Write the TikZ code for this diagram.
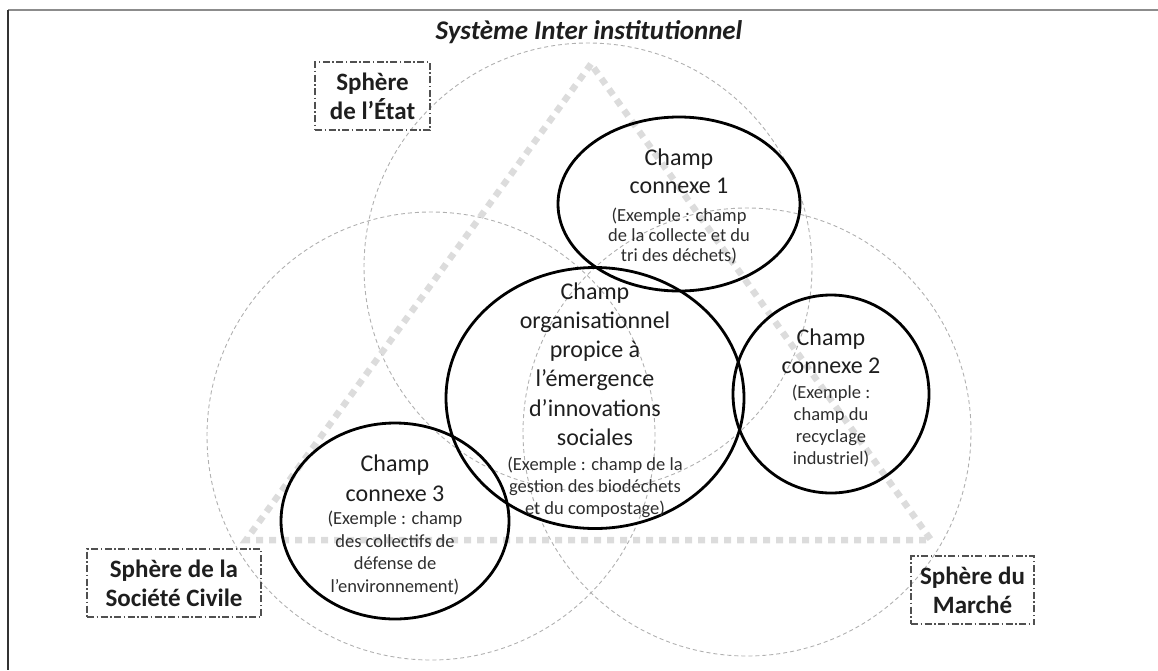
\documentclass[tikz,border=0pt]{standalone}
\usepackage{fontspec}
\setmainfont{Carlito}
\usetikzlibrary{shapes.geometric}
\definecolor{bigc}{HTML}{B0B0B0}
\definecolor{tri}{HTML}{DCDCDC}
\definecolor{txt}{HTML}{1E1E1E}
\definecolor{stxt}{HTML}{2E2E2E}
\definecolor{boxc}{HTML}{505050}
\tikzset{
  sphcircle/.style={draw=bigc, line width=0.9pt, dash pattern=on 4pt off 3pt, circle, minimum size=448pt, inner sep=0pt},
  champ/.style={draw=black, line width=2.8pt, ellipse, inner sep=0pt},
  bigtxt/.style={align=center, text=txt, inner sep=0pt, font=\fontsize{24}{28}\selectfont},
  smalltxt/.style={align=center, text=stxt, inner sep=0pt, font=\fontsize{18.5}{21}\selectfont},
  sphbox/.style={draw=boxc, line width=1.1pt, dash pattern=on 7pt off 2.5pt on 1.5pt off 2.5pt, text=txt,
    font=\bfseries\fontsize{25}{29}\selectfont, align=center, inner sep=0pt, minimum height=68pt},
  trline/.style={draw=tri, line width=6.5pt, dash pattern=on 7pt off 6pt}
}
\begin{document}
\begin{tikzpicture}[x=1pt, y=-1pt]
\useasboundingbox (0,0) rectangle (1158,670);
% frame
\coordinate (f0) at (8,10);
\coordinate (f1) at (1158,10);
\coordinate (f2) at (8,670);
\draw[line width=2.5pt, draw=gray!90] (f0) -- (f1);
\draw[line width=2pt, draw=black!80] (f0) -- (f2);
% title
\node[font=\bfseries\itshape\fontsize{27}{32}\selectfont, text=txt] (title) at (589,32) {Système Inter institutionnel};
% big dashed circles
\node[sphcircle] (cetat) at (588,267) {};
\node[sphcircle] (cciv) at (431,436) {};
\node[sphcircle] (cmar) at (747,432) {};
% triangle
\coordinate (tA) at (591,64);
\coordinate (tB) at (246,540);
\coordinate (tC) at (931,540);
\draw[trline] (tA) -- (tB) -- (tC) -- cycle;
% ellipses
\node[champ, minimum width=242pt, minimum height=174pt] (cc1) at (679,204) {};
\node[champ, minimum width=298pt, minimum height=261pt] (org) at (595,398) {};
\node[champ, minimum width=196pt, minimum height=198pt] (cc2) at (831,394) {};
\node[champ, minimum width=228pt, minimum height=196pt] (cc3) at (395,521) {};
% texts
\node[bigtxt] (cc1a) at (679,171) {Champ\\connexe 1};
\node[smalltxt, font=\fontsize{18.5}{20}\selectfont] (cc1b) at (679,236) {(Exemple : champ\\de la collecte et du\\tri des déchets)};
\node[bigtxt, font=\fontsize{24}{29.2}\selectfont] (orga) at (595,364) {Champ\\organisationnel\\propice à\\l’émergence\\d’innovations\\sociales};
\node[smalltxt, font=\fontsize{18.5}{22}\selectfont] (orgb) at (595,487) {(Exemple : champ de la\\gestion des biodéchets\\et du compostage)};
\node[bigtxt] (cc2a) at (831,351) {Champ\\connexe 2};
\node[smalltxt, font=\fontsize{18.5}{22}\selectfont] (cc2b) at (831,426) {(Exemple :\\champ du\\recyclage\\industriel)};
\node[bigtxt, font=\fontsize{24}{30}\selectfont] (cc3a) at (395,478) {Champ\\connexe 3};
\node[smalltxt, font=\fontsize{18.5}{22.7}\selectfont] (cc3b) at (395,553) {(Exemple : champ\\des collectifs de\\défense de\\l’environnement)};
% sphere boxes
\node[sphbox, minimum width=115pt] (etat) at (372.5,96) {Sphère\\de l’État};
\node[sphbox, minimum width=174pt] (civ) at (174,583) {Sphère de la\\Société Civile};
\node[sphbox, minimum width=123pt] (mar) at (972.5,590) {Sphère du\\Marché};
\end{tikzpicture}
\end{document}
